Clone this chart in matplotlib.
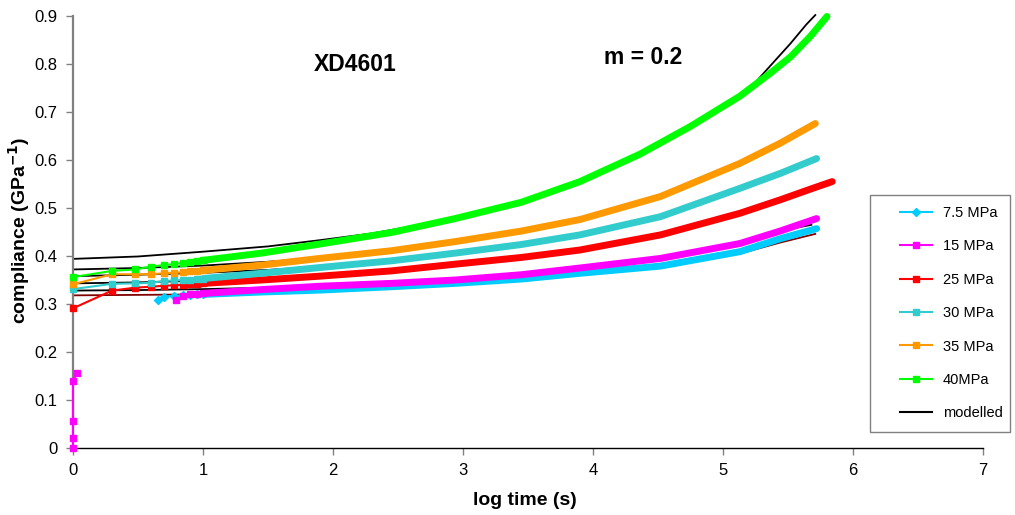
import matplotlib
matplotlib.use("Agg")
import matplotlib.pyplot as plt
import numpy as np
from matplotlib.lines import Line2D
from matplotlib.patches import Rectangle

plt.rcParams['font.family'] = ['Liberation Sans', 'DejaVu Sans']

# ---- data (x = log time, y = compliance GPa^-1) ----
EARLY = [0, 0.301, 0.477, 0.602, 0.699, 0.778, 0.845, 0.903, 0.954, 1.0]

x_40 = EARLY + [1.45, 1.9, 2.45, 2.94, 3.45, 3.9, 4.36, 4.75, 5.13, 5.36, 5.52, 5.67, 5.80]
y_40 = [0.356, 0.369, 0.372, 0.378, 0.381, 0.383, 0.386, 0.388, 0.389, 0.391,
        0.406, 0.425, 0.449, 0.478, 0.512, 0.555, 0.612, 0.670, 0.733, 0.780, 0.815, 0.857, 0.899]

x_35 = EARLY + [1.45, 1.9, 2.45, 2.94, 3.45, 3.9, 4.52, 5.13, 5.44, 5.71]
y_35 = [0.341, 0.362, 0.362, 0.362, 0.364, 0.365, 0.366, 0.368, 0.369, 0.370,
        0.381, 0.395, 0.411, 0.430, 0.452, 0.476, 0.524, 0.593, 0.635, 0.676]

x_30 = EARLY + [1.45, 1.9, 2.45, 2.94, 3.45, 3.9, 4.52, 5.13, 5.44, 5.72]
y_30 = [0.331, 0.342, 0.343, 0.344, 0.348, 0.349, 0.350, 0.351, 0.352, 0.353,
        0.364, 0.376, 0.390, 0.406, 0.424, 0.444, 0.482, 0.541, 0.572, 0.603]

x_25 = EARLY + [1.45, 1.9, 2.45, 2.94, 3.45, 3.9, 4.52, 5.13, 5.44, 5.69, 5.84]
y_25 = [0.291, 0.328, 0.334, 0.336, 0.338, 0.339, 0.340, 0.341, 0.342, 0.343,
        0.350, 0.358, 0.369, 0.383, 0.397, 0.4125, 0.444, 0.489, 0.517, 0.541, 0.555]

# 15 MPa: loading spike at t=0, then a gap, then the creep curve
x_15 = [0, 0, 0, 0, 0.03, np.nan, 0.79, 0.845, 0.903, 0.954, 1.0,
        1.45, 1.9, 2.45, 2.94, 3.45, 3.9, 4.52, 5.13, 5.44, 5.72]
y_15 = [0.0, 0.02, 0.057, 0.14, 0.156, np.nan, 0.309, 0.316, 0.320, 0.321, 0.322,
        0.330, 0.337, 0.343, 0.350, 0.361, 0.375, 0.395, 0.426, 0.452, 0.478]

x_75 = [0.656, 0.699, 0.778, 0.845, 0.903, 0.954, 1.0,
        1.45, 1.9, 2.45, 2.94, 3.45, 3.9, 4.52, 5.13, 5.44, 5.72]
y_75 = [0.308, 0.315, 0.317, 0.318, 0.319, 0.320, 0.320,
        0.325, 0.329, 0.336, 0.343, 0.352, 0.364, 0.379, 0.409, 0.436, 0.457]

# modelled curves (m = 0.2)
xm_40 = [0, 0.5, 1.0, 1.5, 1.9, 2.3, 2.94, 3.45, 3.9, 4.36, 4.75, 5.13, 5.25, 5.36, 5.52,
         5.64, 5.71]
ym_40 = [0.394, 0.399, 0.409, 0.420, 0.433, 0.447, 0.478, 0.512, 0.555, 0.612, 0.670,
         0.733, 0.762, 0.795, 0.843, 0.882, 0.902]
xm_35 = [0, 0.5, 1.0, 1.5, 1.9, 2.45, 2.94, 3.45, 3.9, 4.52, 5.13, 5.44, 5.71]
ym_35 = [0.372, 0.375, 0.380, 0.388, 0.396, 0.411, 0.430, 0.452, 0.476, 0.524, 0.594, 0.637, 0.676]
xm_30 = [0, 0.5, 1.0, 1.5, 1.9, 2.45, 2.94, 3.45, 3.9, 4.52, 5.13, 5.44, 5.72]
ym_30 = [0.358, 0.361, 0.365, 0.371, 0.378, 0.391, 0.406, 0.424, 0.444, 0.482, 0.541, 0.572, 0.603]
xm_25 = [0, 0.5, 1.0, 1.5, 1.9, 2.45, 2.94, 3.45, 3.9, 4.52, 5.13, 5.44, 5.69, 5.84]
ym_25 = [0.343, 0.345, 0.349, 0.354, 0.360, 0.370, 0.383, 0.397, 0.413, 0.445, 0.490, 0.519,
         0.543, 0.556]
xm_15 = [0, 0.5, 1.0, 1.5, 1.9, 2.45, 2.94, 3.45, 3.9, 4.52, 5.13, 5.44, 5.68]
ym_15 = [0.328, 0.329, 0.331, 0.334, 0.338, 0.343, 0.350, 0.361, 0.375, 0.396, 0.428, 0.452, 0.465]
xm_75 = [0, 0, 0.5, 1.0, 1.5, 1.9, 2.45, 2.94, 3.45, 3.9, 4.52, 5.13, 5.44, 5.71]
ym_75 = [0.292, 0.318, 0.319, 0.320, 0.323, 0.327, 0.333, 0.341, 0.350, 0.362, 0.378, 0.405,
         0.428, 0.446]

LABELS = ['7.5 MPa', '15 MPa', '25 MPa', '30 MPa', '35 MPa', '40MPa']
COLORS = ['#00CCFF', '#FF00FF', '#FF0000', '#33CCCC', '#FF9900', '#00FF00']
MARKERS = ['D', 's', 's', 's', 's', 's']
DATA = [(x_75, y_75), (x_15, y_15), (x_25, y_25), (x_30, y_30), (x_35, y_35), (x_40, y_40)]
MODELS = [(xm_75, ym_75, '#800000'), (xm_15, ym_15, 'black'), (xm_25, ym_25, 'black'),
          (xm_30, ym_30, 'black'), (xm_35, ym_35, 'black'), (xm_40, ym_40, 'black')]

fig = plt.figure(figsize=(10.15, 5.15), dpi=100)
ax = fig.add_axes([73 / 1015, 67 / 515, 910 / 1015, 432 / 515])

# modelled lines sit underneath the measured data
for xm, ym, color in MODELS:
    ax.plot(xm, ym, color=color, lw=1.3, clip_on=False, zorder=2)

for (x, y), color, marker in zip(DATA, COLORS, MARKERS):
    x = np.array(x, dtype=float)
    y = np.array(y, dtype=float)
    early = np.where(x <= 1.0)[0]
    # sparse early samples: thin line with visible markers
    ax.plot(x, y, color=color, lw=1.5, marker=marker, markevery=list(early),
            ms=4.2 if marker == 's' else 3.6, mec=color, clip_on=False, zorder=3)
    # dense later samples look like a thick band
    late = x >= 1.0
    ax.plot(x[late], y[late], color=color, lw=5.0, solid_capstyle='round',
            solid_joinstyle='round', clip_on=False, zorder=3)

ax.set_xlim(0, 7)
ax.set_ylim(0, 0.9)
ax.set_xticks(range(8))
yticks = [0, 0.1, 0.2, 0.3, 0.4, 0.5, 0.6, 0.7, 0.8, 0.9]
ax.set_yticks(yticks)
ax.set_yticklabels(['0'] + [f'{v:.1f}' for v in yticks[1:]])
ax.tick_params(axis='both', labelsize=12, direction='out', length=5, width=1,
               color='#808080', pad=6)

for side in ('top', 'right'):
    ax.spines[side].set_visible(False)
ax.spines['left'].set_color('#808080')
ax.spines['left'].set_linewidth(1.6)
ax.spines['bottom'].set_color('black')
ax.spines['bottom'].set_linewidth(1.0)

ax.set_xlabel('log time (s)', fontsize=14, fontweight='bold')
ax.xaxis.set_label_coords(0.497, -0.102)
ax.set_ylabel('compliance (GPa$^{\\mathbf{-1}}$)', fontsize=14, fontweight='bold')
ax.yaxis.set_label_coords(-0.045, 0.505)

ax.text(2.17, 0.799, 'XD4601', fontsize=16.5, fontweight='bold', ha='center', va='center')
ax.text(4.385, 0.8125, 'm = 0.2', fontsize=16.5, fontweight='bold', ha='center', va='center')

# legend: separate frame so the inner padding can match the reference
fig.patches.append(Rectangle((870 / 1015, 1 - 432 / 515), 140 / 1015, 237 / 515,
                             transform=fig.transFigure, fill=True, facecolor='white',
                             edgecolor='#808080', lw=1.0, zorder=5))
handles = [Line2D([], [], color=c, lw=1.5, marker=m, ms=4.2 if m == 's' else 3.6, mec=c)
           for c, m in zip(COLORS, MARKERS)]
handles.append(Line2D([], [], color='black', lw=1.5))
leg = fig.legend(handles, LABELS + ['modelled'], loc='upper left',
                 bbox_to_anchor=(900 / 1015, 1 - 206 / 515), fontsize=10.5,
                 frameon=False, handlelength=2.2, labelspacing=1.33, borderpad=0,
                 handletextpad=0.75, borderaxespad=0)
leg.set_zorder(6)

fig.savefig('out.png', dpi=100)
